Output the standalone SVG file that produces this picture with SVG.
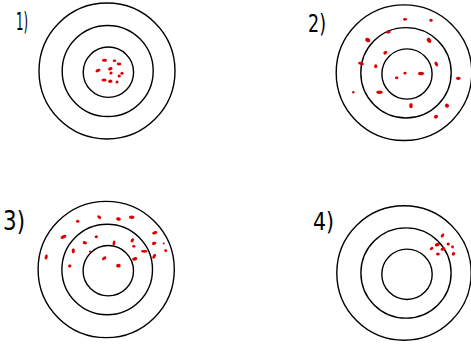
<svg xmlns="http://www.w3.org/2000/svg" width="471" height="344" viewBox="0 0 471 344">
<style>
.ring{fill:none;stroke:#000;stroke-width:1.4}
.dot{fill:#dc0000}
.lbl{font-family:"DejaVu Sans","Liberation Sans",sans-serif;font-weight:normal;fill:#000}
</style>
<rect width="471" height="344" fill="#fff"/>
<g id="target1">
<text class="lbl" x="16" y="30" font-size="25" textLength="12" lengthAdjust="spacingAndGlyphs">1)</text>
<circle class="ring" cx="107" cy="71" r="68"/>
<circle class="ring" cx="107.7" cy="71" r="45.5"/>
<circle class="ring" cx="108.4" cy="72.2" r="25.2"/>
<g class="dot">
<ellipse cx="104.5" cy="60.2" rx="2.6" ry="1.5"/>
<ellipse cx="114.5" cy="60.8" rx="1.8" ry="1.3"/>
<ellipse cx="119" cy="64" rx="2.3" ry="1.4"/>
<ellipse cx="98" cy="70.5" rx="2.6" ry="1.5" transform="rotate(-20 98 70.5)"/>
<ellipse cx="110.3" cy="68.7" rx="2.3" ry="1.6" transform="rotate(-20 110.3 68.7)"/>
<ellipse cx="111" cy="73" rx="1.6" ry="1.5"/>
<ellipse cx="122" cy="73.2" rx="1.6" ry="1.5"/>
<ellipse cx="119.2" cy="76" rx="1.6" ry="1.6"/>
<ellipse cx="104" cy="80" rx="2.6" ry="1.5"/>
<ellipse cx="110.3" cy="81.2" rx="2.1" ry="1.7"/>
<ellipse cx="117" cy="82" rx="1.5" ry="1.5"/>
</g>
</g>
<g id="target2">
<text class="lbl" x="308" y="32" font-size="25" textLength="18" lengthAdjust="spacingAndGlyphs">2)</text>
<circle class="ring" cx="404" cy="72.7" r="67.8"/>
<circle class="ring" cx="406" cy="72.8" r="45.2"/>
<circle class="ring" cx="407" cy="74" r="25.1"/>
<g class="dot">
<ellipse cx="405" cy="19.3" rx="2" ry="1.4"/>
<ellipse cx="431" cy="20.2" rx="1.7" ry="1.5"/>
<ellipse cx="388.3" cy="32" rx="2.3" ry="1.5" transform="rotate(-15 388.3 32)"/>
<ellipse cx="367.7" cy="40" rx="2.6" ry="2" transform="rotate(20 367.7 40)"/>
<ellipse cx="429" cy="40.3" rx="2.8" ry="2" transform="rotate(60 429 40.3)"/>
<ellipse cx="385.3" cy="52.7" rx="2.1" ry="1.7" transform="rotate(-40 385.3 52.7)"/>
<ellipse cx="361" cy="63.5" rx="3" ry="1.6" transform="rotate(15 361 63.5)"/>
<ellipse cx="375.7" cy="66.2" rx="1.6" ry="2"/>
<ellipse cx="436.3" cy="64" rx="2.5" ry="1.6" transform="rotate(60 436.3 64)"/>
<ellipse cx="405" cy="73.2" rx="1.5" ry="1.4"/>
<ellipse cx="421" cy="73.5" rx="3" ry="1.8"/>
<ellipse cx="396.7" cy="77.8" rx="1.8" ry="1.4"/>
<ellipse cx="458.3" cy="78.3" rx="2.4" ry="1.6"/>
<ellipse cx="353.3" cy="92.2" rx="1.2" ry="1.2"/>
<ellipse cx="379.5" cy="92.2" rx="3.2" ry="1.7"/>
<ellipse cx="411" cy="105.7" rx="1.8" ry="2.6"/>
<ellipse cx="447" cy="105.7" rx="2.1" ry="2" transform="rotate(40 447 105.7)"/>
<ellipse cx="436" cy="116.7" rx="2.1" ry="1.8" transform="rotate(-40 436 116.7)"/>
</g>
</g>
<g id="target3">
<text class="lbl" x="3" y="230" font-size="26" textLength="22" lengthAdjust="spacingAndGlyphs">3)</text>
<circle class="ring" cx="106.2" cy="269.5" r="68.1"/>
<circle class="ring" cx="107.2" cy="269.5" r="45.3"/>
<circle class="ring" cx="108.3" cy="270.7" r="25.2"/>
<g class="dot">
<ellipse cx="77.7" cy="221.2" rx="1.7" ry="1.5"/>
<ellipse cx="99.2" cy="217.2" rx="2.2" ry="1.5" transform="rotate(40 99.2 217.2)"/>
<ellipse cx="118.5" cy="219" rx="2.4" ry="1.7" transform="rotate(15 118.5 219)"/>
<ellipse cx="131.7" cy="217.2" rx="2.8" ry="1.7"/>
<ellipse cx="154.8" cy="232.7" rx="2.7" ry="1.6" transform="rotate(-15 154.8 232.7)"/>
<ellipse cx="63.5" cy="236.8" rx="3.2" ry="1.7" transform="rotate(-25 63.5 236.8)"/>
<ellipse cx="96.3" cy="236.8" rx="1.6" ry="1.5"/>
<ellipse cx="132.3" cy="240.3" rx="2.2" ry="1.5" transform="rotate(-55 132.3 240.3)"/>
<ellipse cx="154.2" cy="243.3" rx="2.3" ry="1.5" transform="rotate(-15 154.2 243.3)"/>
<ellipse cx="163.7" cy="243.5" rx="1" ry="1"/>
<ellipse cx="84.8" cy="242.7" rx="2.2" ry="1.6" transform="rotate(15 84.8 242.7)"/>
<ellipse cx="114" cy="243" rx="1.4" ry="2.5" transform="rotate(10 114 243)"/>
<ellipse cx="133.8" cy="246.3" rx="1.6" ry="1.4"/>
<ellipse cx="73.3" cy="250.8" rx="1.6" ry="2.6"/>
<ellipse cx="90" cy="251.5" rx="1" ry="1"/>
<ellipse cx="144.2" cy="251.3" rx="3.2" ry="1.4"/>
<ellipse cx="165.7" cy="250.7" rx="1.5" ry="1.4"/>
<ellipse cx="46.2" cy="257" rx="1.5" ry="2.6" transform="rotate(15 46.2 257)"/>
<ellipse cx="104.2" cy="258.3" rx="2.5" ry="1.5" transform="rotate(-35 104.2 258.3)"/>
<ellipse cx="134.7" cy="258.8" rx="2.6" ry="1.7" transform="rotate(-15 134.7 258.8)"/>
<ellipse cx="154.2" cy="256.3" rx="2.7" ry="1.5" transform="rotate(-60 154.2 256.3)"/>
<ellipse cx="69.7" cy="266" rx="1.7" ry="1.5" transform="rotate(-30 69.7 266)"/>
<ellipse cx="118.4" cy="265.7" rx="2.3" ry="1.9"/>
</g>
</g>
<g id="target4">
<text class="lbl" x="313" y="230" font-size="24" textLength="21" lengthAdjust="spacingAndGlyphs">4)</text>
<circle class="ring" cx="404" cy="273" r="67.2"/>
<circle class="ring" cx="406" cy="273" r="45.1"/>
<circle class="ring" cx="407" cy="274.3" r="25.2"/>
<g class="dot">
<ellipse cx="442.5" cy="235.5" rx="2.2" ry="1.4" transform="rotate(-50 442.5 235.5)"/>
<ellipse cx="437.3" cy="244.6" rx="2.6" ry="1.7" transform="rotate(-20 437.3 244.6)"/>
<ellipse cx="448.2" cy="244" rx="1.7" ry="1.5"/>
<ellipse cx="452.5" cy="246.8" rx="1.4" ry="1.6"/>
<ellipse cx="431.6" cy="248.5" rx="2" ry="1.4" transform="rotate(-40 431.6 248.5)"/>
<ellipse cx="443" cy="249" rx="2.5" ry="1.6" transform="rotate(-20 443 249)"/>
<ellipse cx="437.9" cy="254.1" rx="1.9" ry="1.5"/>
<ellipse cx="453.5" cy="253.8" rx="1.6" ry="1.9" transform="rotate(30 453.5 253.8)"/>
</g>
</g>
</svg>
